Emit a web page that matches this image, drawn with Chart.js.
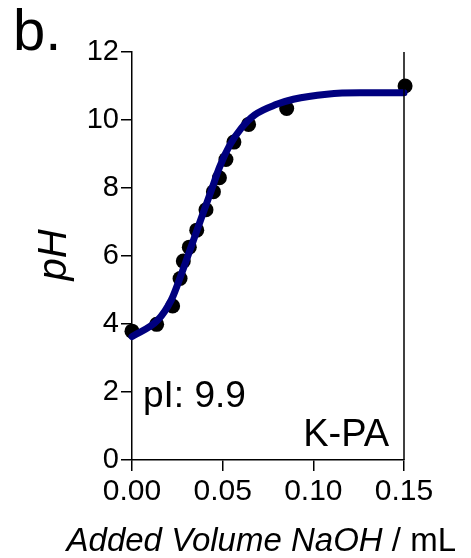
<!DOCTYPE html>
<html>
<head>
<meta charset="utf-8">
<script src="https://cdn.jsdelivr.net/npm/chart.js@4"></script>
<style>
  html, body { margin: 0; padding: 0; background: #fff; }
  #wrap { width: 471px; height: 558px; }
</style>
</head>
<body>
<div id="wrap"><canvas id="titration" width="471" height="558"></canvas></div>
<script>
// measured titration points (mL NaOH, pH)
const volumePts = [0.0, 0.0136, 0.0224, 0.0265, 0.0283, 0.0316, 0.0357, 0.0408, 0.0449, 0.0482, 0.0518, 0.0562, 0.0643, 0.0853, 0.1506];
const phPts = [3.79, 3.99, 4.53, 5.34, 5.85, 6.26, 6.76, 7.36, 7.89, 8.30, 8.84, 9.35, 9.87, 10.34, 11.0];

// fitted curve
const fitVolume = [0.0, 0.0143, 0.0217, 0.0254, 0.0300, 0.0346, 0.0392, 0.0438, 0.0484, 0.0539, 0.0603, 0.0677, 0.0798, 0.089, 0.1074, 0.1257, 0.15];
const fitPh = [3.63, 4.12, 4.71, 5.20, 5.88, 6.57, 7.26, 7.94, 8.63, 9.26, 9.76, 10.15, 10.46, 10.61, 10.76, 10.80, 10.80];

const xTicks = [0, 0.05, 0.10, 0.15];
const yTicks = [0, 2, 4, 6, 8, 10, 12];

const FONT = "'Liberation Sans', Arial, sans-serif";

// texts that Chart.js can't place by itself (panel letter, labels, mixed italic x title)
const annotations = {
  id: "annotations",
  afterDraw(chart) {
    const ctx = chart.ctx;
    const area = chart.chartArea;
    ctx.save();
    // right frame line
    ctx.strokeStyle = "#000";
    ctx.lineWidth = 1.5;
    ctx.beginPath();
    ctx.moveTo(area.right, area.top);
    ctx.lineTo(area.right, area.bottom);
    ctx.stroke();

    ctx.fillStyle = "#000";
    ctx.textBaseline = "alphabetic";
    ctx.textAlign = "left";
    ctx.font = "58px " + FONT;
    ctx.fillText("b.", 13, 50);

    ctx.font = "37px " + FONT;
    ctx.fillText("pI: 9.9", 143, 407);
    ctx.font = "38px " + FONT;
    ctx.textAlign = "right";
    ctx.fillText("K-PA", 389, 446);

    // x axis title: italic part + plain unit
    const italicPart = "Added Volume NaOH";
    const plainPart = " / mL";
    const size = 33;
    ctx.font = "italic " + size + "px " + FONT;
    const w1 = ctx.measureText(italicPart).width;
    ctx.font = size + "px " + FONT;
    const w2 = ctx.measureText(plainPart).width;
    const startX = 456 - (w1 + w2);
    ctx.textAlign = "left";
    ctx.font = "italic " + size + "px " + FONT;
    ctx.fillText(italicPart, startX, 551);
    ctx.font = size + "px " + FONT;
    ctx.fillText(plainPart, startX + w1, 551);

    // y axis title
    ctx.translate(66, 255);
    ctx.rotate(-Math.PI / 2);
    ctx.textAlign = "center";
    ctx.font = "italic 40px " + FONT;
    ctx.fillText("pH", 0, 0);
    ctx.restore();
  },
};

const points = volumePts.map((v, i) => ({ x: v, y: phPts[i] }));
const fitLine = fitVolume.map((v, i) => ({ x: v, y: fitPh[i] }));

new Chart(document.getElementById("titration"), {
  type: "scatter",
  data: {
    datasets: [
      {
        label: "data",
        data: points,
        pointRadius: 7.5,
        pointHoverRadius: 7.5,
        backgroundColor: "#000",
        borderWidth: 0,
        order: 2,
      },
      {
        label: "fit",
        type: "line",
        data: fitLine,
        borderColor: "#00007f",
        borderWidth: 7,
        pointRadius: 0,
        cubicInterpolationMode: "monotone",
        borderCapStyle: "round",
        fill: false,
        order: 1,
      },
    ],
  },
  options: {
    responsive: false,
    animation: false,
    clip: false,
    layout: { padding: { left: 0, top: 52, right: 67, bottom: 0 } },
    plugins: { legend: { display: false }, tooltip: { enabled: false } },
    scales: {
      x: {
        type: "linear",
        min: 0,
        max: 0.15,
        afterBuildTicks: (axis) => { axis.ticks = xTicks.map((v) => ({ value: v })); },
        afterFit: (axis) => { axis.height = 98; },
        ticks: {
          color: "#000",
          font: { family: FONT, size: 30 },
          padding: 3,
          maxRotation: 0,
          callback: (v) => v.toFixed(2),
        },
        grid: { drawOnChartArea: false, drawTicks: true, tickLength: 11, color: "#000", lineWidth: 1.5 },
        border: { color: "#000", width: 1.5 },
      },
      y: {
        min: 0,
        max: 12,
        afterBuildTicks: (axis) => { axis.ticks = yTicks.map((v) => ({ value: v })); },
        afterFit: (axis) => { axis.width = 132; },
        ticks: {
          color: "#000",
          font: { family: FONT, size: 29 },
          padding: 2,
        },
        grid: { drawOnChartArea: false, drawTicks: true, tickLength: 11, color: "#000", lineWidth: 1.5 },
        border: { color: "#000", width: 1.5 },
      },
    },
  },
  plugins: [annotations],
});
</script>
</body>
</html>
